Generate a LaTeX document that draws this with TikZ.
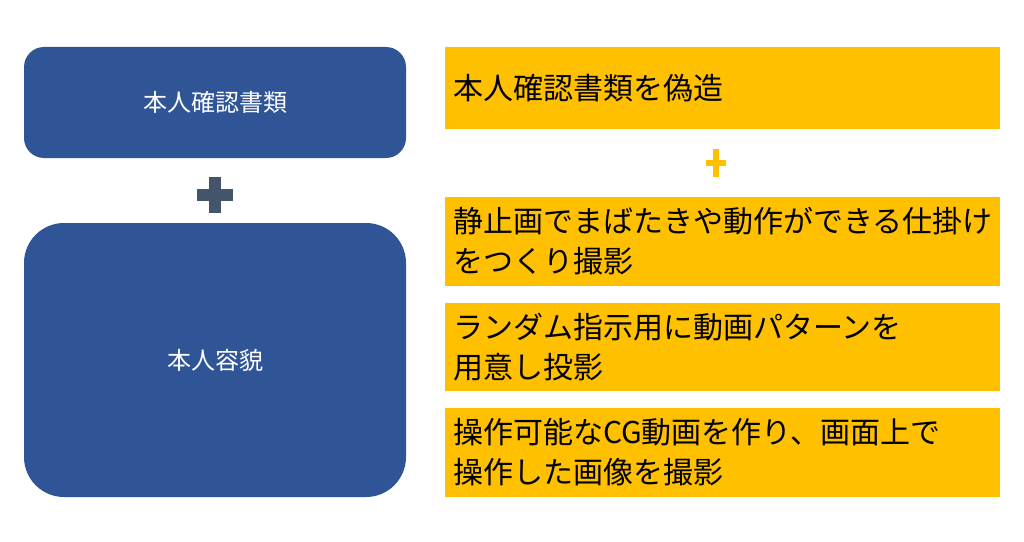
\documentclass[tikz,border=0pt]{standalone}
\usepackage{fontspec}
\setmainfont{Noto Sans CJK JP}

\definecolor{docblue}{HTML}{2F5597}
\definecolor{plusgray}{HTML}{44546A}
\definecolor{fakeyellow}{HTML}{FFC000}

\tikzset{
    realbox/.style={fill=docblue, text=white, minimum width=286.5pt,
        font=\fontsize{18pt}{22pt}\selectfont},
    fakebox/.style={fill=fakeyellow, text=black, minimum width=416.25pt,
        text width=404.25pt, inner xsep=6pt, align=left,
        font=\fontsize{22.5pt}{30pt}\selectfont}
}

\begin{document}
\begin{tikzpicture}[x=0.75pt, y=-0.75pt]
    \useasboundingbox[fill=white] (0,0) rectangle (1024,542);

    % left column
    \node (docs) [realbox, rounded corners=15pt, minimum height=83.25pt]
        at (215,102.5) {本人確認書類};
    \node (face) [realbox, rounded corners=30pt, minimum height=205.5pt]
        at (215,360) {本人容貌};
    \draw[plusgray, line width=9pt] (197,195) -- (233,195) (215,177) -- (215,213);

    % right column
    \node (forge) [fakebox, minimum height=61.5pt] at (722.5,88)
        {本人確認書類を偽造};
    \node (blink) [fakebox, minimum height=66.75pt] at (722.5,241.5)
        {静止画でまばたきや動作ができる仕掛け\\をつくり撮影};
    \node (movie) [fakebox, minimum height=66pt] at (722.5,347)
        {ランダム指示用に動画パターンを\\用意し投影};
    \node (cg) [fakebox, minimum height=66.75pt] at (722.5,452.5)
        {操作可能なCG動画を作り、画面上で\\操作した画像を撮影};
    \draw[fakeyellow, line width=4.5pt] (706,163) -- (726,163) (716,149) -- (716,177);
\end{tikzpicture}
\end{document}
